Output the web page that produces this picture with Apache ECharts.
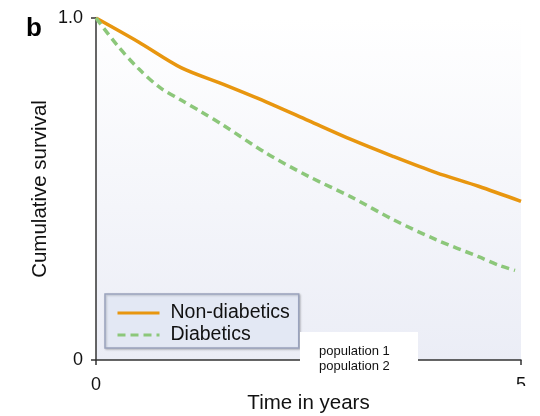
<!DOCTYPE html>
<html>
<head>
<meta charset="utf-8">
<script src="https://cdn.jsdelivr.net/npm/echarts@6/dist/echarts.min.js"></script>
<style>html,body{margin:0;padding:0;background:#fff;}#c{width:540px;height:416px;}</style>
</head>
<body>
<div id="c"></div>
<script>
var seriesNames = ['Non-diabetics', 'Diabetics'];
var nonDiabeticsYears = [0, 0.5, 1.0, 1.5, 2.0, 2.5, 3.0, 3.5, 4.0, 4.5, 5.0];
var nonDiabeticsSurv  = [1.0, 0.93, 0.855, 0.806, 0.755, 0.70, 0.645, 0.595, 0.548, 0.508, 0.464];
var diabeticsYears = [0, 0.25, 0.5, 0.75, 1.0, 1.25, 1.5, 2.0, 2.5, 3.0, 3.5, 4.0, 4.5, 4.75, 4.93];
var diabeticsSurv  = [1.0, 0.92, 0.852, 0.797, 0.76, 0.724, 0.686, 0.605, 0.537, 0.477, 0.41, 0.352, 0.302, 0.276, 0.262];
var xTicks = [0, 5];
var yTicks = [0, 1.0];
var yTickLabels = ['0', '1.0'];
var noteLines = ['population 1', 'population 2'];

function pairs(xs, ys) { return xs.map(function (x, i) { return [x, ys[i]]; }); }

var chart = echarts.init(document.getElementById('c'), null, {renderer: 'canvas'});
var font = '"Liberation Sans", Arial, sans-serif';
chart.setOption({
  animation: false,
  textStyle: {fontFamily: font},
  grid: {
    left: 96, right: 19, top: 18, bottom: 56, show: true, borderWidth: 0,
    containLabel: false, outerBoundsMode: 'none',
    backgroundColor: {type: 'linear', x: 0, y: 0, x2: 0, y2: 1,
      colorStops: [{offset: 0, color: '#ffffff'}, {offset: 1, color: '#ebedf6'}]}
  },
  xAxis: {
    type: 'value', min: 0, max: 5, interval: 5,
    name: 'Time in years', nameLocation: 'middle', nameGap: 33, nameMoveOverlap: false,
    nameTextStyle: {fontSize: 20.5, color: '#111', fontFamily: font},
    axisLine: {show: true, lineStyle: {color: '#333', width: 1.5}},
    axisTick: {show: true, length: 5, lineStyle: {color: '#333', width: 1.5}},
    axisLabel: {fontSize: 18, color: '#111', margin: 16, fontFamily: font},
    splitLine: {show: false}
  },
  yAxis: {
    type: 'value', min: 0, max: 1, interval: 1,
    name: 'Cumulative survival', nameLocation: 'middle', nameGap: 45, nameRotate: 90, nameMoveOverlap: false,
    nameTextStyle: {fontSize: 20.5, color: '#111', fontFamily: font},
    axisLine: {show: true, lineStyle: {color: '#333', width: 1.5}},
    axisTick: {show: true, length: 5, lineStyle: {color: '#333', width: 1.5}},
    axisLabel: {fontSize: 18, color: '#111', margin: 13, fontFamily: font,
      formatter: function (v) { var i = yTicks.indexOf(v); return i >= 0 ? yTickLabels[i] : ''; }},
    splitLine: {show: false}
  },
  legend: {
    orient: 'vertical', left: 105, top: 294,
    data: seriesNames,
    backgroundColor: '#e3e8f4', borderColor: '#9aa3bd', borderWidth: 1.5,
    padding: [9, 9, 3, 11], itemGap: 2, itemWidth: 42, itemHeight: 14,
    itemStyle: {opacity: 0},
    lineStyle: {width: 3},
    textStyle: {fontSize: 19.5, color: '#111', fontFamily: font, padding: [0, 0, 0, 6]},
    shadowColor: 'rgba(0,0,0,0.2)', shadowBlur: 2, shadowOffsetX: 1, shadowOffsetY: 1
  },
  series: [
    {name: seriesNames[0], type: 'line', data: pairs(nonDiabeticsYears, nonDiabeticsSurv),
     smooth: 0.3, symbol: 'none',
     lineStyle: {color: '#e8960f', width: 3.5}, itemStyle: {color: '#e8960f'}},
    {name: seriesNames[1], type: 'line', data: pairs(diabeticsYears, diabeticsSurv),
     smooth: 0.3, symbol: 'none',
     lineStyle: {color: '#8cc77a', width: 3.5, type: [8, 5]}, itemStyle: {color: '#8cc77a'}}
  ],
  graphic: [
    {type: 'text', left: 26, top: 16, style: {text: 'b', fontSize: 26, fontWeight: 'bold', fill: '#000', fontFamily: font}},
    {type: 'rect', z: 100, shape: {x: 300, y: 332, width: 118, height: 41}, style: {fill: '#ffffff'}},
    {type: 'text', z: 101, left: 319, top: 344, style: {text: noteLines.join('\n'), fontSize: 13, lineHeight: 15, fill: '#111', fontFamily: font}},
    {type: 'rect', z: 100, shape: {x: 510, y: 386, width: 25, height: 12}, style: {fill: '#ffffff'}}
  ]
});
</script>
</body>
</html>
